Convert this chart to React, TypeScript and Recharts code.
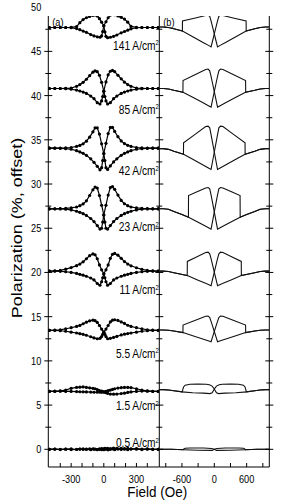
import React from 'react';
import { LineChart, Line, XAxis, YAxis, ReferenceDot } from 'recharts';

const FONT = '"Liberation Sans", Arial, Helvetica, sans-serif';

// ---------- shared ----------
const currents = ['141', '85', '42', '23', '11', '5.5', '1.5', '0.5'];
const baseA = [47.7, 40.8, 34.05, 27.2, 20.15, 13.45, 6.55, 0];
const baseB = [47.75, 40.8, 34.0, 27.2, 20.15, 13.5, 6.75, 0];
const labelY = [45.65, 38.4, 31.45, 25.1, 17.97, 10.8, 4.86, 0.71];

const yTicks = [0, 2.5, 5, 7.5, 10, 12.5, 15, 17.5, 20, 22.5, 25, 27.5, 30, 32.5, 35, 37.5, 40, 42.5, 45, 47.5, 50];
const xTicksA = [-400, -300, -200, -100, 0, 100, 200, 300, 400];
const xLabelsA = [-300, 0, 300];
const xTicksB = [-900, -600, -300, 0, 300, 600, 900];
const xLabelsB = [-600, 0, 600];

// ---------- panel (a): measured, two sweep branches ----------
const fieldA1 = [-500, -450, -400, -350, -300, -250, -220, -190, -160, -130, -100, -80, -60, -40, -20, 0, 10, 20, 35, 60, 90, 120, 160, 190, 220, 250, 300, 350, 400, 450, 500];
const fieldA2 = [500, 450, 400, 350, 300, 250, 220, 190, 160, 130, 100, 80, 60, 40, 20, 0, -10, -20, -35, -60, -90, -120, -160, -190, -220, -250, -300, -350, -400, -450, -500];

const a141_1 = [0, 0, 0, 0, 0.03, 0.1, 0.55, 0.9, 1.1, 1.25, 1.38, 1.42, 1.3, 1.0, 0.6, 0.2, -0.5, -1.0, -1.15, -1.1, -1.0, -0.85, -0.6, -0.45, -0.3, -0.15, -0.03, 0, 0, 0, 0];
const a141_2 = [0, 0, 0, 0, 0.03, 0.12, 0.6, 0.95, 1.15, 1.3, 1.45, 1.5, 1.4, 1.1, 0.65, 0.2, -0.45, -0.95, -1.1, -1.05, -0.95, -0.8, -0.55, -0.4, -0.25, -0.12, -0.02, 0, 0, 0, 0];
const a85_1 = [0, 0, 0, 0.02, 0.05, 0.25, 0.45, 0.7, 1.05, 1.45, 1.85, 2.0, 1.9, 1.5, 0.7, -0.3, -0.9, -1.4, -1.75, -1.6, -1.15, -0.85, -0.55, -0.4, -0.28, -0.18, -0.08, -0.02, 0, 0, 0];
const a85_2 = [0, 0, 0, 0.02, 0.05, 0.25, 0.45, 0.72, 1.1, 1.5, 1.9, 2.05, 1.95, 1.55, 0.75, -0.3, -0.9, -1.4, -1.75, -1.6, -1.15, -0.85, -0.55, -0.4, -0.28, -0.18, -0.08, -0.02, 0, 0, 0];
const a42_1 = [0, 0, 0.01, 0.03, 0.08, 0.2, 0.32, 0.5, 0.8, 1.25, 1.85, 2.3, 2.3, 1.6, 0.5, -0.6, -1.4, -2.2, -2.4, -2.0, -1.55, -1.2, -0.8, -0.58, -0.42, -0.28, -0.12, -0.05, -0.01, 0, 0];
const a42_2 = [0, 0, 0.01, 0.03, 0.08, 0.2, 0.33, 0.52, 0.82, 1.3, 1.9, 2.35, 2.35, 1.65, 0.55, -0.6, -1.4, -2.2, -2.45, -2.05, -1.6, -1.2, -0.8, -0.58, -0.42, -0.28, -0.12, -0.05, -0.01, 0, 0];
const a23_1 = [0, 0, 0.02, 0.05, 0.1, 0.2, 0.35, 0.55, 0.9, 1.5, 2.15, 2.45, 2.35, 1.5, 0.4, -0.7, -1.5, -2.2, -2.3, -1.9, -1.45, -1.1, -0.75, -0.55, -0.4, -0.28, -0.13, -0.05, -0.02, 0, 0];
const a23_2 = [0, 0, 0.02, 0.05, 0.1, 0.2, 0.35, 0.57, 0.95, 1.55, 2.2, 2.5, 2.4, 1.55, 0.4, -0.7, -1.5, -2.2, -2.3, -1.9, -1.45, -1.1, -0.75, -0.55, -0.4, -0.28, -0.13, -0.05, -0.02, 0, 0];
const a11_1 = [0, 0.02, 0.08, 0.22, 0.4, 0.62, 0.8, 1.05, 1.4, 1.75, 1.95, 1.85, 1.4, 0.7, 0.15, -0.3, -0.75, -1.2, -1.6, -1.4, -1.0, -0.78, -0.58, -0.46, -0.36, -0.26, -0.15, -0.07, -0.02, 0, 0];
const a11_2 = [0, 0.02, 0.08, 0.2, 0.38, 0.6, 0.8, 1.08, 1.45, 1.8, 2.0, 1.9, 1.45, 0.7, 0.15, -0.3, -0.75, -1.2, -1.6, -1.4, -1.0, -0.78, -0.58, -0.46, -0.36, -0.26, -0.15, -0.07, -0.02, 0, 0];
const a55_1 = [0, 0.02, 0.06, 0.18, 0.3, 0.45, 0.56, 0.75, 0.93, 1.08, 1.15, 1.1, 0.9, 0.55, 0.15, -0.2, -0.45, -0.7, -0.95, -0.9, -0.8, -0.68, -0.52, -0.43, -0.36, -0.3, -0.2, -0.1, -0.04, 0, 0];
const a55_2 = [0, 0.02, 0.06, 0.18, 0.3, 0.45, 0.58, 0.78, 0.95, 1.12, 1.2, 1.15, 0.95, 0.55, 0.15, -0.2, -0.45, -0.7, -0.9, -0.95, -0.85, -0.72, -0.55, -0.45, -0.37, -0.3, -0.2, -0.1, -0.04, 0, 0];
const a15_1 = [0, 0.02, 0.05, 0.15, 0.35, 0.45, 0.48, 0.5, 0.45, 0.4, 0.35, 0.3, 0.2, 0.1, 0.02, -0.05, -0.1, -0.15, -0.22, -0.3, -0.32, -0.3, -0.25, -0.2, -0.12, -0.06, 0, 0.03, 0.02, 0, 0];
const a15_2 = [0, 0.01, 0.05, 0.15, 0.3, 0.42, 0.45, 0.45, 0.42, 0.38, 0.3, 0.22, 0.15, 0.08, 0, -0.05, -0.06, -0.08, -0.1, -0.1, -0.1, -0.08, -0.06, -0.05, -0.04, -0.02, 0, 0, 0.02, 0, 0];
const a05_1 = [0, 0.03, -0.03, 0.02, 0.04, -0.02, 0.03, 0.05, 0, 0.04, 0.06, 0.02, -0.04, 0.05, 0.08, 0.04, 0.1, 0.06, 0.12, 0.08, 0.14, 0.1, 0.12, 0.08, 0.1, 0.06, 0.08, 0.03, 0.05, 0.02, 0];
const a05_2 = [0, -0.02, 0.02, -0.03, 0.01, 0.03, -0.04, 0.02, -0.02, 0.03, -0.05, 0.04, 0, -0.06, 0.02, -0.04, 0.03, -0.05, 0, -0.03, 0.02, -0.04, 0.01, -0.02, 0.03, 0, -0.03, 0.02, 0, 0.01, 0];

const seriesA1 = [a141_1, a85_1, a42_1, a23_1, a11_1, a55_1, a15_1, a05_1];
const seriesA2 = [a141_2, a85_2, a42_2, a23_2, a11_2, a55_2, a15_2, a05_2];

// ---------- panel (b): simulated loops (up-sweep; down-sweep is its mirror) ----------
const bF141 = [-1020, -950, -850, -750, -590, -400, -200, -100, -60, -30, 0, 30, 60, 85, 115, 160, 350, 590, 592, 750, 850, 950, 1020];
const bV141 = [0, 0, -0.05, -0.2, -0.45, -1.1, -1.77, -2.1, -2.25, -1.52, -0.78, -0.04, 0.69, 1.2, 1.35, 1.3, 1.03, 0.7, -0.45, -0.2, -0.05, 0, 0];
const bF85 = [-1020, -950, -850, -750, -580, -400, -200, -100, -60, -30, 0, 30, 60, 85, 115, 160, 350, 580, 582, 750, 850, 950, 1020];
const bV85 = [0, 0, -0.05, -0.2, -0.42, -1.0, -1.65, -1.97, -2.1, -1.23, -0.36, 0.51, 1.38, 2.0, 2.2, 2.15, 1.58, 0.9, -0.42, -0.2, -0.05, 0, 0];
const bF42 = [-1020, -950, -850, -750, -570, -400, -200, -100, -60, -30, 0, 30, 60, 85, 115, 160, 350, 570, 572, 750, 850, 950, 1020];
const bV42 = [0, 0, -0.08, -0.3, -0.64, -1.21, -1.88, -2.22, -2.35, -1.37, -0.38, 0.6, 1.58, 2.35, 2.55, 2.5, 1.64, 0.65, -0.64, -0.3, -0.08, 0, 0];
const bF23 = [-1020, -950, -850, -750, -600, -478, -300, -150, -100, -60, -30, 0, 30, 60, 85, 115, 160, 330, 478, 480, 600, 750, 850, 950, 1020];
const bV23 = [0, 0, -0.05, -0.3, -0.65, -0.95, -1.52, -2.0, -2.17, -2.3, -1.33, -0.36, 0.6, 1.57, 2.25, 2.4, 2.35, 1.9, 1.5, -0.95, -0.65, -0.3, -0.05, 0, 0];
const bF11 = [-1020, -950, -850, -750, -500, -300, -150, -100, -60, -30, 0, 30, 60, 85, 115, 160, 330, 500, 502, 750, 850, 950, 1020];
const bV11 = [0, 0, -0.05, -0.18, -0.5, -1.02, -1.41, -1.53, -1.65, -0.88, -0.12, 0.65, 1.41, 1.95, 2.15, 2.1, 1.6, 1.1, -0.5, -0.18, -0.05, 0, 0];
const bF55 = [-1020, -950, -850, -750, -580, -400, -200, -100, -60, -30, 0, 30, 60, 85, 115, 160, 350, 580, 582, 750, 850, 950, 1020];
const bV55 = [0, 0, -0.03, -0.12, -0.3, -0.66, -1.05, -1.25, -1.33, -0.75, -0.18, 0.4, 0.97, 1.4, 1.58, 1.55, 1.1, 0.55, -0.3, -0.12, -0.03, 0, 0];
const bF15 = [-1020, -950, -850, -750, -600, -400, -200, -80, -40, 0, 40, 90, 150, 300, 450, 540, 570, 585, 590, 750, 850, 950, 1020];
const bV15 = [0, 0, -0.05, -0.12, -0.25, -0.35, -0.4, -0.45, -0.35, 0.07, 0.4, 0.55, 0.6, 0.62, 0.6, 0.5, 0.3, 0, -0.25, -0.12, -0.05, 0, 0];
const bF05 = [-1020, -800, -570, -300, -40, 0, 50, 200, 450, 540, 565, 575, 800, 1020];
const bV05 = [0, 0, -0.05, -0.1, -0.12, 0, 0.1, 0.15, 0.15, 0.12, 0.05, -0.05, 0, 0];

const bFields = [bF141, bF85, bF42, bF23, bF11, bF55, bF15, bF05];
const bValues = [bV141, bV85, bV42, bV23, bV11, bV55, bV15, bV05];

// ---------- build tables ----------
const dataA = currents.map((_, i) => ({
  b1: fieldA1.map((x, j) => ({ x, y: baseA[i] + seriesA1[i][j] })),
  b2: fieldA2.map((x, j) => ({ x, y: baseA[i] + seriesA2[i][j] })),
}));
const dataB = currents.map((_, i) => ({
  up: bFields[i].map((x, j) => ({ x, y: baseB[i] + bValues[i][j] })),
  down: bFields[i].map((x, j) => ({ x: -x, y: baseB[i] + bValues[i][j] })),
}));

// horizontal text compression of the original figure
const SX = 0.8;

const SText = ({ x, y, anchor, size, children }: any) => (
  <g transform={`translate(${x}, ${y}) scale(${SX}, 1)`}>
    <text x={0} y={0} textAnchor={anchor} fontSize={size} fontFamily={FONT} fill="#000">
      {children}
    </text>
  </g>
);

// ---------- tick renderers ----------
const LeftTick = (p: any) => {
  const { x, y, payload } = p;
  const v = payload.value;
  const major = v % 5 === 0;
  const len = major ? 4 : 3;
  return (
    <g>
      {v <= 49 && <line x1={x - len} x2={x + len} y1={y} y2={y} stroke="#000" strokeWidth={1} />}
      {major && <SText x={x - 7} y={y + 4} anchor="end" size={11.5}>{v}</SText>}
    </g>
  );
};
const CrossTick = (p: any) => {
  const { x, y, payload } = p;
  const v = payload.value;
  const len = v % 5 === 0 ? 4 : 3;
  if (v > 49) return <g />;
  return (
    <g>
      <line x1={x - len} x2={x + len} y1={y} y2={y} stroke="#000" strokeWidth={1} />
    </g>
  );
};
const makeBottomTick = (labels: number[]) => (p: any) => {
  const { x, y, payload } = p;
  const v = payload.value;
  return (
    <g>
      <line x1={x} x2={x} y1={y} y2={y - 4} stroke="#000" strokeWidth={1} />
      {labels.includes(v) && <SText x={x} y={y + 16} anchor="middle" size={11.5}>{String(v)}</SText>}
    </g>
  );
};
const TopTick = (p: any) => {
  const { x, y } = p;
  return (
    <g>
      <line x1={x} x2={x} y1={y} y2={y + 4} stroke="#000" strokeWidth={1} />
    </g>
  );
};

const currentLabel = (text: string) => (props: any) => {
  const vb = props.viewBox || {};
  return (
    <g transform={`translate(${vb.x}, ${vb.y + 4}) scale(0.85, 1)`}>
      <text x={0} y={0} textAnchor="end" fontSize={12} fontFamily={FONT} fill="#000">
        {text + ' A/cm'}
        <tspan dy={-4.5} fontSize={7}>2</tspan>
      </text>
    </g>
  );
};
const panelLabel = (text: string) => (props: any) => {
  const vb = props.viewBox || {};
  return <SText x={vb.x + 4} y={vb.y + 10} anchor="start" size={11.5}>{text}</SText>;
};
const yTitle = (props: any) => {
  const vb = props.viewBox || { x: 0, y: 0, width: 0, height: 0 };
  const cx = vb.x + 17;
  const cy = 228;
  return (
    <g transform={`translate(${cx}, ${cy}) scale(${SX}, 1) rotate(-90)`}>
      <text x={0} y={0} textAnchor="middle" dominantBaseline="central" fontSize={18} fontFamily={FONT} fill="#000">
        Polarization (%, offset)
      </text>
    </g>
  );
};
const xTitle = (props: any) => {
  const vb = props.viewBox || { x: 0, y: 0, width: 0, height: 0 };
  return (
    <g transform={`translate(${vb.x - 2}, ${vb.y + 30}) scale(0.9, 1)`}>
      <text x={0} y={0} textAnchor="middle" fontSize={15} fontFamily={FONT} fill="#000">
        Field (Oe)
      </text>
    </g>
  );
};

const axisLine = { stroke: '#000', strokeWidth: 1 };

export default function App() {
  return (
    <div style={{ position: 'absolute', left: 0, top: 0, width: 289, height: 502, background: '#fff' }}>
      <div style={{ position: 'absolute', left: 0, top: 0 }}>
        <LineChart width={159.3} height={502} margin={{ top: 16, right: 0, bottom: 0, left: 0 }}>
          <XAxis xAxisId="b" type="number" dataKey="x" domain={[-510, 510]} ticks={xTicksA} interval={0} height={35}
            axisLine={axisLine} tickLine={false} tickSize={0} tickMargin={0} tick={makeBottomTick(xLabelsA)} allowDataOverflow />
          <XAxis xAxisId="t" orientation="top" type="number" dataKey="x" domain={[-510, 510]} ticks={xTicksA} interval={0} height={0}
            axisLine={axisLine} tickLine={false} tickSize={0} tickMargin={0} tick={TopTick} allowDataOverflow />
          <YAxis type="number" domain={[-2, 49]} ticks={yTicks} interval={0} width={48.3}
            axisLine={axisLine} tickLine={false} tickSize={0} tickMargin={0} tick={LeftTick} allowDataOverflow label={yTitle} />
          {dataA.map((d, i) => (
            <Line key={'a1' + i} xAxisId="b" data={d.b1} dataKey="y" type="linear" stroke="#000" strokeWidth={1.2}
              dot={{ r: 1.6, fill: '#000', stroke: 'none' }} activeDot={false} isAnimationActive={false} />
          ))}
          {dataA.map((d, i) => (
            <Line key={'a2' + i} xAxisId="b" data={d.b2} dataKey="y" type="linear" stroke="#000" strokeWidth={1.2}
              dot={{ r: 1.6, fill: '#000', stroke: 'none' }} activeDot={false} isAnimationActive={false} />
          ))}
          {currents.map((c, i) => (
            <ReferenceDot key={'l' + i} xAxisId="b" x={506} y={labelY[i]} r={0} fill="none" stroke="none" label={currentLabel(c)} />
          ))}
          <ReferenceDot xAxisId="b" x={-510} y={49} r={0} fill="none" stroke="none" label={panelLabel('(a)')} />
        </LineChart>
      </div>
      <div style={{ position: 'absolute', left: 100, top: 0 }}>
        <LineChart width={189} height={502} margin={{ top: 16, right: 0, bottom: 0, left: 0 }}>
          <XAxis xAxisId="b" type="number" dataKey="x" domain={[-1020, 1020]} ticks={xTicksB} interval={0} height={35}
            axisLine={axisLine} tickLine={false} tickSize={0} tickMargin={0} tick={makeBottomTick(xLabelsB)} allowDataOverflow label={xTitle} />
          <XAxis xAxisId="t" orientation="top" type="number" dataKey="x" domain={[-1020, 1020]} ticks={xTicksB} interval={0} height={0}
            axisLine={axisLine} tickLine={false} tickSize={0} tickMargin={0} tick={TopTick} allowDataOverflow />
          <YAxis type="number" domain={[-2, 49]} ticks={yTicks} interval={0} width={59.3}
            axisLine={axisLine} tickLine={false} tickSize={0} tickMargin={0} tick={CrossTick} allowDataOverflow />
          <YAxis yAxisId="r" orientation="right" type="number" domain={[-2, 49]} ticks={yTicks} interval={0} width={19.7}
            axisLine={axisLine} tickLine={false} tickSize={0} tickMargin={0} tick={CrossTick} allowDataOverflow />
          {dataB.map((d, i) => (
            <Line key={'bu' + i} xAxisId="b" data={d.up} dataKey="y" type="linear" stroke="#111" strokeWidth={1.1}
              dot={false} activeDot={false} isAnimationActive={false} />
          ))}
          {dataB.map((d, i) => (
            <Line key={'bd' + i} xAxisId="b" data={d.down} dataKey="y" type="linear" stroke="#111" strokeWidth={1.1}
              dot={false} activeDot={false} isAnimationActive={false} />
          ))}
          <ReferenceDot xAxisId="b" x={-1020} y={49} r={0} fill="none" stroke="none" label={panelLabel('(b)')} />
        </LineChart>
      </div>
    </div>
  );
}
